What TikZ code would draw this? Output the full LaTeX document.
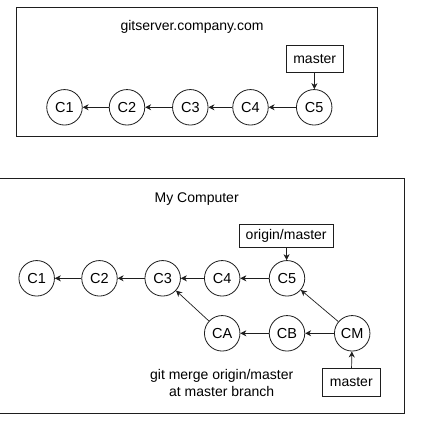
\documentclass[tikz,border=0pt]{standalone}
\usepackage{fontspec}
\setmainfont{Liberation Sans}
\usetikzlibrary{arrows.meta}
\definecolor{ink}{RGB}{30,30,30}
\begin{document}
\begin{tikzpicture}[x=1pt,y=-1pt,
  commit/.style={draw=ink,circle,minimum size=35.5pt,inner sep=0pt,line width=0.8pt,font=\fontsize{14.5}{16}\selectfont},
  ref/.style={draw=ink,rectangle,inner sep=0pt,line width=0.8pt,font=\fontsize{14}{16}\selectfont},
  boxframe/.style={draw=ink,line width=0.9pt},
  lbl/.style={font=\fontsize{14}{17}\selectfont,inner sep=0pt,align=center},
  link/.style={-{Stealth[length=6pt,width=6pt]},line width=0.7pt,draw=ink}]
\fill[white] (0,0) rectangle (428,434);
\useasboundingbox (0,0) rectangle (428,434);
\begin{scope}
\clip (0,0) rectangle (428,434);
% top frame
\draw[boxframe] (16,7.3) rectangle (377.7,136.3);
\node[lbl] (t1) at (192,27) {gitserver.company.com};
\node[ref,minimum width=57pt,minimum height=27.3pt] (m1) at (314.7,58.7) {master};
\node[commit] (a1) at (64.5,107.3) {C1};
\node[commit] (a2) at (127,107.3) {C2};
\node[commit] (a3) at (190.3,107.3) {C3};
\node[commit] (a4) at (250.5,107.3) {C4};
\node[commit] (a5) at (314.2,107.3) {C5};
\draw[link] (a2) -- (a1);
\draw[link] (a3) -- (a2);
\draw[link] (a4) -- (a3);
\draw[link] (a5) -- (a4);
\draw[link] (m1) -- (a5);
% bottom frame
\draw[boxframe] (-3,178) rectangle (404.3,413.3);
\node[lbl] (t2) at (196.7,199.5) {My Computer};
\node[ref,minimum width=94.3pt,minimum height=23.4pt] (om) at (286.2,236) {origin/master};
\node[commit] (b1) at (36.7,278.3) {C1};
\node[commit] (b2) at (99.5,278.3) {C2};
\node[commit] (b3) at (162.7,278.3) {C3};
\node[commit] (b4) at (222.2,278.3) {C4};
\node[commit] (b5) at (287,278.3) {C5};
\node[commit] (ca) at (222.2,333.3) {CA};
\node[commit] (cb) at (287,333.3) {CB};
\node[commit] (cm) at (352.2,333.3) {CM};
\node[ref,minimum width=57.3pt,minimum height=28.4pt] (m2) at (351.3,382.5) {master};
\node[lbl] (t3) at (221.7,383) {git merge origin/master\\at master branch};
\draw[link] (b2) -- (b1);
\draw[link] (b3) -- (b2);
\draw[link] (b4) -- (b3);
\draw[link] (b5) -- (b4);
\draw[link] (om) -- (b5);
\draw[link] (ca) -- (b3);
\draw[link] (cb) -- (ca);
\draw[link] (cm) -- (cb);
\draw[link] (cm) -- (b5);
\draw[link] (m2) -- (cm);
\end{scope}
\end{tikzpicture}
\end{document}
